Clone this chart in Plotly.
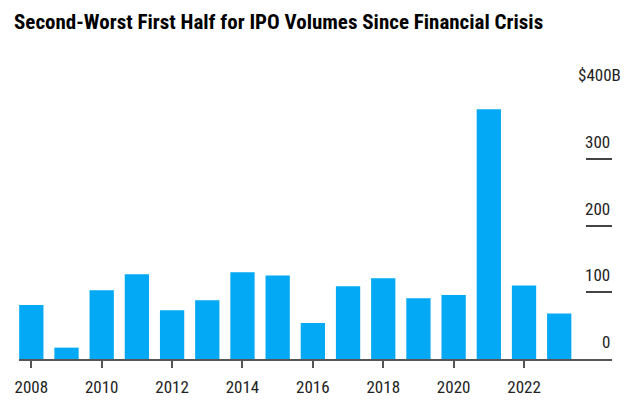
import plotly.graph_objects as go

years = list(range(2008, 2024))
volumes = [81, 17, 103, 127, 73, 88, 130, 125, 54, 109, 121, 91, 96, 374, 110, 68]
x_tick_vals = [2008, 2010, 2012, 2014, 2016, 2018, 2020, 2022]
x_tick_text = [str(v) for v in x_tick_vals]
y_tick_vals = [0, 100, 200, 300, 400]
y_tick_text = ["0", "100", "200", "300", "$400B"]
title_text = "Second-Worst First Half for IPO Volumes Since Financial Crisis"

FAM = ("Noto Sans ExtraCondensed, Noto Sans Condensed, Roboto Condensed, "
       "Open Sans Condensed, Arial Narrow, Noto Sans, sans-serif")

try:
    go.layout.title.Font(stretch="extra-condensed")
    HAS_STRETCH = True
except Exception:
    HAS_STRETCH = False


def font(size, color, stretch="extra-condensed", weight=None):
    d = dict(family=FAM, size=size, color=color)
    if HAS_STRETCH:
        d["stretch"] = stretch
    if weight is not None:
        d["weight"] = weight
    return d


fig = go.Figure()
fig.add_trace(go.Bar(
    x=years, y=volumes,
    marker=dict(color="#03A9F4", line=dict(width=0)),
    width=0.69,
    hoverinfo="skip",
))

for v, t in zip(y_tick_vals, y_tick_text):
    fig.add_annotation(
        x=1, xref="paper", y=v, yref="y",
        text=t, showarrow=False,
        xanchor="right", yanchor="middle",
        xshift=11 if t.startswith("$") else 0,
        yshift=17,
        font=font(17, "#222222"),
    )

# page body adds an 8px offset; figure is sized to the visible window
fig.update_layout(
    width=632, height=394,
    margin=dict(l=11, r=28, t=84, b=43, autoexpand=False),
    paper_bgcolor="white", plot_bgcolor="white",
    showlegend=False,
    title=dict(
        text=title_text,
        x=6 / 632, xanchor="left", xref="container",
        y=1 - 14 / 394, yanchor="middle", yref="container",
        font=font(21, "#000000", weight=700),
    ),
    xaxis=dict(
        range=[2007.65, 2024.5],
        tickvals=x_tick_vals, ticktext=x_tick_text,
        ticks="outside", ticklen=7, tickwidth=1.5, tickcolor="#555555",
        showline=True, linecolor="#555555", linewidth=1.5,
        showgrid=False, zeroline=False,
        tickfont=font(17, "#222222"),
        ticklabelstandoff=5,
        automargin=False,
        fixedrange=True,
    ),
    yaxis=dict(
        range=[0, 400], side="right",
        tickvals=y_tick_vals, showticklabels=False,
        ticks="inside", ticklen=26, tickwidth=1.5, tickcolor="#444444",
        showline=False, showgrid=False, zeroline=False,
        automargin=False,
        fixedrange=True,
    ),
)

fig.write_html("out.html")
